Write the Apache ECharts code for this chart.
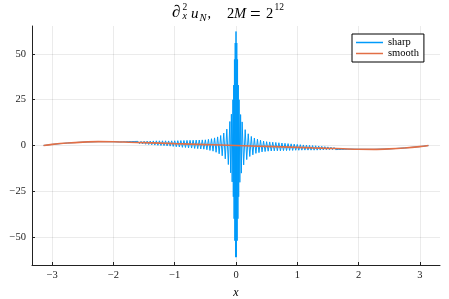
<!DOCTYPE html>
<html>
<head>
<meta charset="utf-8">
<script src="https://cdn.jsdelivr.net/npm/echarts@6/dist/echarts.min.js"></script>
<style>html,body{margin:0;padding:0;background:#fff}#c{width:449px;height:299px}</style>
</head>
<body>
<div id="c"></div>
<script>
// ---- data ----
const xTicks = [-3, -2, -1, 0, 1, 2, 3];
const xTickLabels = ['\u22123', '\u22122', '\u22121', '0', '1', '2', '3'];
const yTicks = [-50, -25, 0, 25, 50];
const yTickLabels = ['\u221250', '\u221225', '0', '25', '50'];

const smoothX = [-3.1416, -3.0, -2.75, -2.5, -2.25, -2.0, -1.75, -1.5, -1.25, -1.0, -0.75, -0.5, -0.25, 0,
  0.25, 0.5, 0.75, 1.0, 1.25, 1.5, 1.75, 2.0, 2.25, 2.5, 2.75, 3.0, 3.1416];
const smoothY = [0, 0.6, 1.35, 1.85, 2.1, 2.05, 1.8, 1.55, 1.3, 1.0, 0.75, 0.5, 0.25, 0,
  -0.25, -0.5, -0.75, -1.0, -1.3, -1.55, -1.8, -2.05, -2.1, -1.85, -1.35, -0.6, 0];

const sharpX = [
  -3.1416, -3.0, -2.75, -2.5, -2.25, -2.0,
  -1.9, -1.875, -1.85, -1.825, -1.8, -1.775, -1.75, -1.725, -1.7, -1.675, -1.65, -1.625, -1.6, -1.575, -1.55, -1.525,
  -1.5, -1.475, -1.45, -1.425, -1.4, -1.375, -1.35, -1.325, -1.3, -1.275, -1.25, -1.225, -1.2, -1.175, -1.15, -1.125,
  -1.1, -1.075, -1.05, -1.025, -1.0, -0.975, -0.95, -0.925, -0.9, -0.875, -0.85, -0.825, -0.8, -0.775, -0.75, -0.725,
  -0.7, -0.675, -0.65, -0.625, -0.6, -0.575, -0.55, -0.525, -0.5, -0.475, -0.45, -0.425, -0.4, -0.375, -0.35, -0.325,
  -0.3, -0.275, -0.25, -0.225, -0.2, -0.175, -0.15, -0.125,
  -0.1, -0.0875, -0.075, -0.0625,
  -0.05, -0.04375, -0.0375, -0.03125, -0.025, -0.01875, -0.0125, -0.00625, 0,
  0.00625, 0.0125, 0.01875, 0.025, 0.03125, 0.0375, 0.04375, 0.05,
  0.0625, 0.075, 0.0875, 0.1,
  0.125, 0.15, 0.175, 0.2, 0.225, 0.25, 0.275, 0.3, 0.325, 0.35, 0.375, 0.4, 0.425, 0.45, 0.475,
  0.5, 0.525, 0.55, 0.575, 0.6, 0.625, 0.65, 0.675, 0.7, 0.725, 0.75, 0.775, 0.8, 0.825, 0.85, 0.875,
  0.9, 0.925, 0.95, 0.975, 1.0, 1.025, 1.05, 1.075, 1.1, 1.125, 1.15, 1.175, 1.2, 1.225, 1.25, 1.275,
  1.3, 1.325, 1.35, 1.375, 1.4, 1.425, 1.45, 1.475, 1.5, 1.525, 1.55, 1.575, 1.6, 1.625, 1.65, 1.675,
  1.7, 1.725, 1.75, 1.775, 1.8, 1.825, 1.85, 1.875, 1.9,
  2.0, 2.25, 2.5, 2.75, 3.0, 3.1416
];
const sharpY = [
  0, 0.6, 1.35, 1.85, 2.1, 2.05,
  1.95, 1.87, 2.0, 1.73, 2.05, 1.57, 2.1, 1.42, 2.15, 1.27, 2.2, 1.13, 2.25, 0.97, 2.3, 0.82,
  2.35, 0.67, 2.4, 0.53, 2.45, 0.38, 2.5, 0.23, 2.55, 0.1, 2.55, 0, 2.55, -0.1, 2.55, -0.25,
  2.5, -0.35, 2.55, -0.5, 2.6, -0.7, 2.65, -0.8, 2.7, -1.0, 2.75, -1.1, 2.8, -1.3, 2.85, -1.4,
  2.9, -1.6, 2.95, -1.7, 3.0, -1.9, 3.05, -2.0, 3.1, -2.3, 3.35, -2.7, 3.7, -3.1, 4.15, -3.7,
  4.7, -4.5, 5.45, -5.6, 6.8, -7.3, 8.95, -10.4,
  13.1, -14.9, 17.1, -19.9,
  25, -28, 33, -40, 47, -52, 56, -61, 62.3,
  -61, 56, -52, 47, -40, 33, -28, 25,
  -20.1, 16.9, -15.1, 12.9,
  -10.6, 8.65, -7.7, 6.4, -6.0, 4.95, -5.1, 4.1, -4.3, 3.45, -3.9, 2.9, -3.5, 2.45, -3.3,
  2.1, -3.1, 1.95, -3.0, 1.8, -2.95, 1.65, -2.9, 1.5, -2.9, 1.35, -2.8, 1.2, -2.8, 1.05, -2.7,
  0.9, -2.7, 0.75, -2.6, 0.6, -2.6, 0.45, -2.55, 0.3, -2.52, 0.18, -2.52, 0.06, -2.54, -0.05, -2.55,
  -0.15, -2.53, -0.3, -2.48, -0.45, -2.43, -0.6, -2.37, -0.75, -2.33, -0.9, -2.28, -1.05, -2.23, -1.2, -2.17,
  -1.35, -2.12, -1.5, -2.08, -1.65, -2.03, -1.8, -1.98, -1.95,
  -2.05, -2.1, -1.85, -1.35, -0.6, 0
];

const seriesNames = ['sharp', 'smooth'];
const seriesColors = ['#009AFA', '#E26F46'];

// ---- chart ----
const SERIF = '"Liberation Serif", "DejaVu Serif", serif';
const chart = echarts.init(document.getElementById('c'), null, { renderer: 'canvas' });
const pairs = (xs, ys) => xs.map((x, i) => [x, ys[i]]);

const titleParts = [
  { t: '\u2202', x: 172, y: 12.5, f: 'italic 17px ' + SERIF },
  { t: '2', x: 182.5, y: 7, f: '9.5px ' + SERIF },
  { t: 'x', x: 182.5, y: 16, f: 'italic 10px ' + SERIF },
  { t: 'u', x: 191, y: 14, f: 'italic 15px ' + SERIF },
  { t: 'N', x: 199.5, y: 18.5, f: 'italic 10.5px ' + SERIF },
  { t: ',', x: 207.5, y: 14, f: '14px ' + SERIF },
  { t: '2', x: 227, y: 14, f: '14.5px ' + SERIF },
  { t: 'M', x: 234, y: 14, f: 'italic 14.5px ' + SERIF },
  { t: '=', x: 250, y: 15.5, f: '19px ' + SERIF },
  { t: '2', x: 266, y: 14, f: '14.5px ' + SERIF },
  { t: '12', x: 274.5, y: 7.5, f: '9.5px ' + SERIF }
];

chart.setOption({
  animation: false,
  backgroundColor: '#fff',
  grid: { left: 32, top: 26, right: 9, bottom: 34, containLabel: false, outerBoundsMode: 'none' },
  graphic: titleParts.map(p => ({
    type: 'text', x: p.x, y: p.y,
    style: { text: p.t, font: p.f, fill: '#000', verticalAlign: 'middle', align: 'left' }
  })),
  legend: {
    orient: 'vertical', left: 352, top: 34,
    data: seriesNames, icon: 'rect',
    backgroundColor: '#fff', borderColor: '#000', borderWidth: 1, borderRadius: 0,
    padding: [3, 5, 3, 4], itemGap: 0, itemWidth: 27, itemHeight: 1.5,
    textStyle: { fontFamily: SERIF, fontSize: 10.5, color: '#000', lineHeight: 11 }
  },
  xAxis: {
    type: 'value', min: -3.33, max: 3.33,
    name: 'x', nameLocation: 'middle', nameGap: 22,
    nameTextStyle: { fontFamily: SERIF, fontStyle: 'italic', fontSize: 12, color: '#000' },
    axisLine: { onZero: false, lineStyle: { color: '#222', width: 1 } },
    axisTick: { show: true, inside: true, length: 3, customValues: xTicks, lineStyle: { color: '#222' } },
    axisLabel: {
      customValues: xTicks, margin: 5, fontFamily: SERIF, fontSize: 10.5, color: '#222',
      formatter: v => xTickLabels[xTicks.indexOf(Math.round(v))]
    },
    splitLine: { show: true, lineStyle: { color: 'rgba(0,0,0,0.08)', width: 1 } }
  },
  yAxis: {
    type: 'value', min: -65.3, max: 65.3,
    axisLine: { show: true, onZero: false, lineStyle: { color: '#222', width: 1 } },
    axisTick: { show: true, inside: true, length: 3, customValues: yTicks, lineStyle: { color: '#222' } },
    axisLabel: {
      customValues: yTicks, margin: 6, fontFamily: SERIF, fontSize: 10.5, color: '#222',
      formatter: v => yTickLabels[yTicks.indexOf(Math.round(v))]
    },
    splitLine: { show: true, lineStyle: { color: 'rgba(0,0,0,0.08)', width: 1 } }
  },
  series: [
    {
      name: seriesNames[0], type: 'line', data: pairs(sharpX, sharpY),
      symbol: 'none', showSymbol: false, color: seriesColors[0],
      lineStyle: { width: 1, color: seriesColors[0] }, z: 2
    },
    {
      name: seriesNames[1], type: 'line', data: pairs(smoothX, smoothY), smooth: 0.3,
      symbol: 'none', showSymbol: false, color: seriesColors[1],
      lineStyle: { width: 1.6, color: seriesColors[1] }, z: 3
    }
  ]
});
</script>
</body>
</html>
